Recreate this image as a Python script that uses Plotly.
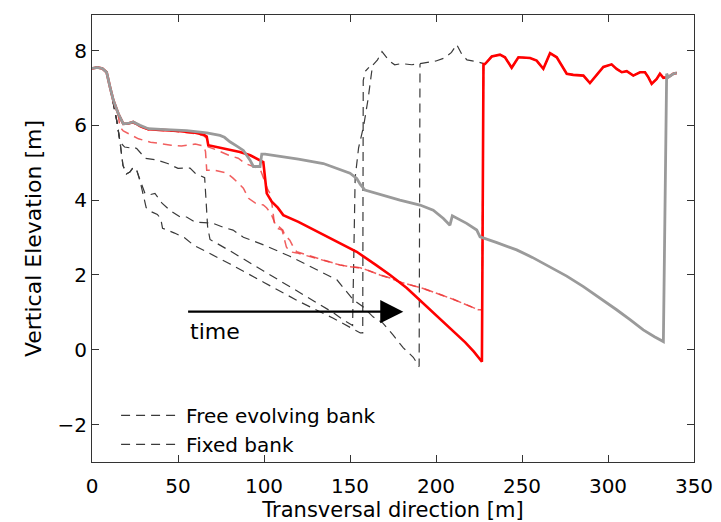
import plotly.graph_objects as go

# ---- profile data (x: transversal distance [m], y: elevation [m]) ----
# common upper terrain on the left side
top_x = [0, 3, 6, 8.5, 10.5]
top_y = [7.52, 7.55, 7.52, 7.42, 7.02]

# undisturbed floodplain on the right side (beyond the bank)
plain_x = [163, 166, 168.6, 172.7, 176, 180, 186, 190.7, 196, 200, 205, 209, 212, 215,
           218, 224, 228.5, 232.4, 237.2, 240.1, 244.0, 247.9, 254.7, 258.5, 262.4,
           266.3, 270.2, 273.1, 276, 279.8, 285.7, 289.5, 292.4, 297.3, 302.1, 305,
           308, 310.9, 314.7, 318.6, 321.5, 323.4, 325.4, 328.3, 330.2, 332.2, 335.1,
           338, 340]
plain_y = [7.6, 7.75, 7.97, 7.73, 7.62, 7.65, 7.62, 7.65, 7.68, 7.72, 7.8, 7.95, 8.16, 7.9,
           7.75, 7.7, 7.64, 7.84, 7.89, 7.82, 7.54, 7.82, 7.8, 7.73, 7.51,
           7.93, 7.82, 7.6, 7.38, 7.35, 7.33, 7.13, 7.29, 7.56, 7.63, 7.51,
           7.42, 7.45, 7.33, 7.42, 7.42, 7.29, 7.11, 7.24, 7.38, 7.27, 7.29,
           7.38, 7.4]

# free evolving bank, intermediate profiles (bank retreats to the right)
free1_x = [12.4, 14.5, 16.3, 19, 22, 24, 26, 31, 38, 44, 50, 54, 57, 60, 65.5, 66.3,
           67.2, 68.6, 80, 100, 120, 140, 146, 151.5, 153, 155, 158, 160.5, 162.8]
free1_y = [6.6, 6.1, 5.55, 5.42, 5.4, 5.42, 5.38, 5.12, 5.07, 4.98, 4.85, 4.85, 4.86,
           4.72, 4.6, 4.0, 3.3, 2.95, 2.65, 2.1, 1.55, 1.0, 0.8, 0.65, 4.6, 5.4, 6.0,
           6.7, 7.5]

free2_x = [12.4, 14.5, 16.3, 18, 20, 22, 24, 26, 28, 30.5, 31.5, 35, 38, 40, 41, 48,
           54, 59, 64.5, 80, 100, 120, 140, 152, 156, 157.4, 157.7, 159, 161]
free2_y = [6.6, 6.1, 5.55, 4.93, 4.7, 4.75, 4.88, 4.8, 4.5, 4.0, 3.8, 3.68, 3.62, 3.5,
           3.25, 3.12, 2.99, 2.8, 2.67, 2.3, 1.8, 1.3, 0.85, 0.55, 0.45, 0.45, 7.2,
           7.45, 7.55]

free3_x = [12.4, 14.5, 16.3, 18, 20, 22, 24, 26, 28, 30.8, 34, 36.6, 40.7, 45.3, 51.2,
           55, 60, 70, 76, 82, 88, 100, 115, 134.5, 142.4, 152, 157.6, 163.4, 169, 175,
           181, 186.8, 190.2, 190.7]
free3_y = [6.6, 6.1, 5.55, 4.93, 4.7, 4.75, 4.88, 4.8, 4.53, 4.18, 4.15, 4.18, 3.92,
           3.73, 3.55, 3.55, 3.41, 3.39, 3.28, 3.2, 3.01, 2.8, 2.5, 2.05, 1.87, 1.33,
           1.15, 0.88, 0.72, 0.4, 0.05, -0.2, -0.45, 7.65]

# fixed bank, intermediate profiles (bank stays near x = 227)
fixed1_x = [12.4, 15.3, 16.3, 18.2, 22, 27, 34, 40, 46, 52, 55, 60, 65, 66, 66.7, 71.5,
            78.5, 82, 88, 91, 95, 99.6, 101.6, 104, 107.5, 110.5, 113, 115, 119, 134.5,
            144, 150, 156, 160, 167.4, 173.3, 179, 192.6, 210, 224.6, 226.8, 227.6]
fixed1_y = [6.67, 6.25, 5.95, 5.85, 5.75, 5.64, 5.55, 5.51, 5.47, 5.45, 5.47, 5.5, 5.45,
            5.3, 4.8, 4.8, 4.72, 4.59, 4.32, 4.05, 3.92, 3.87, 3.79, 3.65, 3.25, 3.2,
            2.75, 2.62, 2.59, 2.4, 2.27, 2.22, 2.19, 2.13, 2.0, 1.92, 1.81, 1.64, 1.35,
            1.07, 1.07, 7.6]

fixed2_x = [12.4, 15.3, 18.2, 24, 27.9, 32.7, 47.3, 60, 65, 66.7, 67.6, 72, 79.5, 85,
            89, 95, 98, 100.6, 102, 103.5, 104.6, 106, 111, 112, 115, 117, 119, 134.5,
            144, 150, 156, 160, 167.4, 173.3, 179, 192.6, 210, 224.6, 226.8, 227.6]
fixed2_y = [6.67, 6.31, 6.02, 6.06, 5.96, 5.88, 5.84, 5.78, 5.72, 5.66, 5.42, 5.35,
            5.2, 5.12, 4.98, 4.88, 4.8, 4.48, 4.3, 4.18, 3.9, 3.4, 3.2, 3.07, 2.93,
            2.75, 2.62, 2.4, 2.27, 2.22, 2.19, 2.13, 2.0, 1.92, 1.81, 1.64, 1.35,
            1.07, 1.07, 7.6]

# final profile, fixed bank
fixed_end_x = [12.4, 15.3, 18.2, 21, 24, 27.9, 32.7, 47.3, 60, 65, 66.7, 67.6, 75, 86,
               92, 99.6, 101.6, 104.5, 108, 111.2, 120, 134.5, 145, 153.9, 165, 173.3,
               183, 192.6, 202.3, 210, 217, 222, 226.7, 227.6]
fixed_end_y = [6.67, 6.31, 6.04, 6.05, 6.09, 5.98, 5.9, 5.86, 5.8, 5.75, 5.7, 5.47,
               5.4, 5.29, 5.2, 5.02, 4.18, 3.96, 3.8, 3.6, 3.42, 3.07, 2.82, 2.62,
               2.27, 2.0, 1.65, 1.24, 0.84, 0.52, 0.2, -0.05, -0.32, 7.64]

# final profile, free evolving bank
free_end_x = [12.4, 15.3, 18.2, 21, 24, 27.9, 32.7, 40, 47.3, 55, 66.7, 74.4, 77, 80.2,
              84, 88, 91.9, 93.8, 97.7, 98.7, 100.6, 110, 120, 134.5, 146.1, 150, 153.9,
              156, 158.7, 170, 179, 190.7, 198.4, 204.3, 208.1, 209.5, 212, 217.8,
              223.7, 225.6, 235, 246.9, 256, 266.3, 276, 285.7, 295, 305, 313, 320.5,
              327, 332.2, 334.1]
free_end_y = [6.67, 6.31, 6.04, 6.05, 6.09, 6.0, 5.91, 5.89, 5.88, 5.86, 5.8, 5.73,
              5.68, 5.56, 5.45, 5.33, 5.07, 4.9, 4.9, 5.23, 5.23, 5.17, 5.1, 4.98, 4.8,
              4.72, 4.58, 4.42, 4.27, 4.12, 4.0, 3.87, 3.73, 3.51, 3.33, 3.58, 3.52,
              3.38, 3.2, 3.02, 2.87, 2.67, 2.47, 2.22, 1.97, 1.69, 1.4, 1.07, 0.8,
              0.53, 0.35, 0.22, 7.38]

# arrow marking the direction of time, and its label
arrow_x = [55, 181]
arrow_y = [1.02, 1.02]
time_label_xy = (56, 0.48)

x_ticks = [0, 50, 100, 150, 200, 250, 300, 350]
y_ticks = [-2, 0, 2, 4, 6, 8]


def join(x_mid, y_mid, plain_from=None):
    """Upper terrain + eroded middle part (+ floodplain beyond x >= plain_from)."""
    if plain_from is None:
        return top_x + x_mid, top_y + y_mid
    px = [v for v in plain_x if v >= plain_from]
    py = [plain_y[i] for i, v in enumerate(plain_x) if v >= plain_from]
    return top_x + x_mid + px, top_y + y_mid + py


FONT = "DejaVu Sans"
black_dash = dict(color="#3a3a3a", width=1.2, dash="9px,6px")
red_dash = dict(color="rgba(238,55,55,0.8)", width=1.5, dash="9px,6px")

fig = go.Figure()

# the floodplain is drawn once (with the first profile) so its dashes stay crisp
for i, (mx, my, start) in enumerate([(free1_x, free1_y, 163),
                                     (free2_x, free2_y, None),
                                     (free3_x, free3_y, None)]):
    x, y = join(mx, my, start)
    fig.add_trace(go.Scatter(x=x, y=y, mode="lines", line=black_dash,
                             name="Free evolving bank", showlegend=(i == 0)))

# legend entry for the fixed bank set (same dashed style in the key)
fig.add_trace(go.Scatter(x=[None], y=[None], mode="lines", line=black_dash,
                         name="Fixed bank", showlegend=True))

for mx, my in [(fixed1_x, fixed1_y), (fixed2_x, fixed2_y)]:
    x, y = join(mx, my, 228.5)
    fig.add_trace(go.Scatter(x=x, y=y, mode="lines", line=red_dash, showlegend=False))

x, y = join(fixed_end_x, fixed_end_y, 228.5)
fig.add_trace(go.Scatter(x=x, y=y, mode="lines",
                         line=dict(color="#ff0000", width=2.6), showlegend=False))

x, y = join(free_end_x, free_end_y, 335)
fig.add_trace(go.Scatter(x=x, y=y, mode="lines",
                         line=dict(color="#9a9a9a", width=2.8), showlegend=False))

fig.add_annotation(x=arrow_x[1], y=arrow_y[1], ax=arrow_x[0], ay=arrow_y[0],
                   xref="x", yref="y", axref="x", ayref="y", text="",
                   showarrow=True, arrowhead=2, arrowsize=2.1, arrowwidth=2.2,
                   arrowcolor="black")
fig.add_annotation(x=time_label_xy[0], y=time_label_xy[1], xref="x", yref="y",
                   text="time", showarrow=False, xanchor="left", yanchor="middle",
                   font=dict(family=FONT, size=22, color="black"))

axis_common = dict(showline=True, linecolor="#333333", linewidth=1.2, mirror="ticks",
                   ticks="inside", ticklen=7, tickcolor="#333333", showgrid=False,
                   zeroline=False, automargin=False,
                   tickfont=dict(family=FONT, size=20, color="black"))

fig.update_xaxes(range=[0, 350], tickvals=x_ticks, ticklabelstandoff=6,
                 title=dict(text="Transversal direction [m]",
                            font=dict(family=FONT, size=21, color="black"), standoff=4),
                 **axis_common)
fig.update_yaxes(range=[-3, 8.95], tickvals=y_ticks,
                 ticktext=[("\u2212" + str(-v)) if v < 0 else str(v) for v in y_ticks],
                 title=dict(text="Vertical Elevation [m]",
                            font=dict(family=FONT, size=22, color="black"), standoff=9),
                 **axis_common)

fig.update_layout(
    width=721, height=522,
    margin=dict(l=92, r=27, t=15, b=60),
    paper_bgcolor="white", plot_bgcolor="white",
    showlegend=True,
    legend=dict(x=0.04, y=0.148, xanchor="left", yanchor="top",
                bgcolor="rgba(0,0,0,0)", font=dict(family=FONT, size=20, color="black"),
                itemwidth=60, tracegroupgap=0),
)

fig.write_html("out.html")
